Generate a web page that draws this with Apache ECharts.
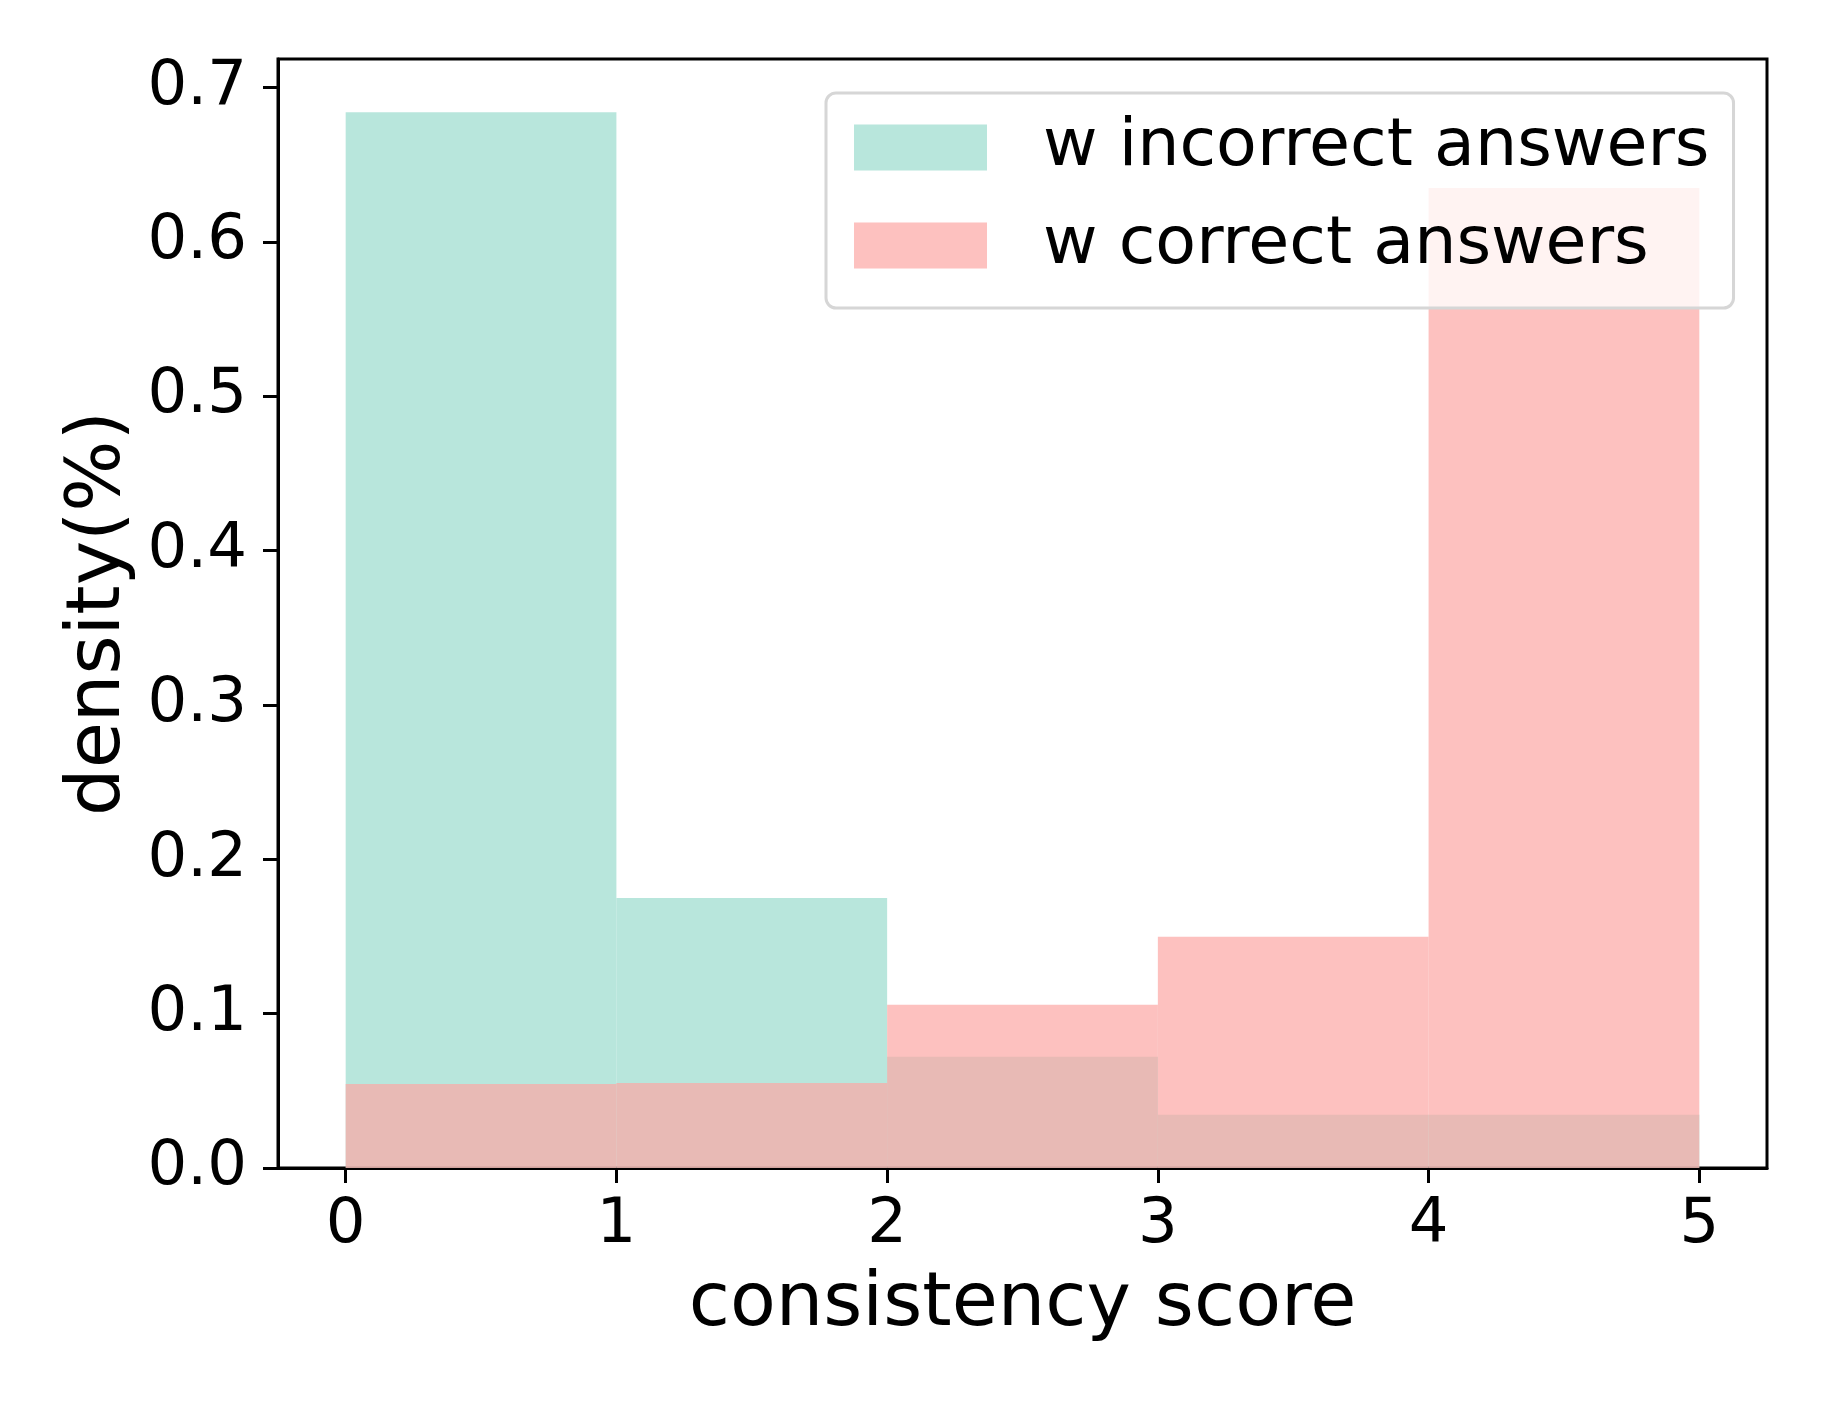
<!DOCTYPE html>
<html>
<head>
<meta charset="utf-8">
<script src="https://cdn.jsdelivr.net/npm/echarts@6/dist/echarts.min.js"></script>
<style>
html,body{margin:0;padding:0;background:#fff;}
#chart{width:1826px;height:1407px;}
</style>
</head>
<body>
<div id="chart"></div>
<script>
// ---- data ----
const binEdges = [0, 1, 2, 3, 4, 5];
const incorrectDensity = [0.684, 0.175, 0.072, 0.0345, 0.0345];
const correctDensity = [0.0545, 0.0551, 0.1057, 0.1498, 0.635];
const xTicks = [0, 1, 2, 3, 4, 5];
const yTicks = [0, 0.1, 0.2, 0.3, 0.4, 0.5, 0.6, 0.7];
const seriesNames = ['w incorrect answers', 'w correct answers'];

const FONT = 'DejaVu Sans';
const tealColor = 'rgb(154,219,205)';
const pinkColor = 'rgb(252,166,164)';
const ALPHA = 0.7;

function binData(vals) {
  return vals.map((v, i) => [binEdges[i], binEdges[i + 1], v]);
}

function renderBin(params, api) {
  const p0 = api.coord([api.value(0), api.value(2)]);
  const p1 = api.coord([api.value(1), 0]);
  return {
    type: 'rect',
    shape: { x: p0[0], y: p0[1], width: p1[0] - p0[0], height: p1[1] - p0[1] },
    style: api.style()
  };
}

const chart = echarts.init(document.getElementById('chart'), null, { renderer: 'canvas' });
chart.setOption({
  animation: false,
  backgroundColor: '#ffffff',
  textStyle: { fontFamily: FONT },
  grid: {
    left: 278, top: 59, width: 1489, height: 1109,
    show: true, borderColor: '#000', borderWidth: 3, backgroundColor: 'transparent'
  },
  xAxis: {
    type: 'value', min: -0.25, max: 5.25,
    name: 'consistency score', nameLocation: 'middle', nameGap: 100,
    nameTextStyle: { fontSize: 75, color: '#000', fontFamily: FONT },
    axisLine: { show: true, onZero: false, lineStyle: { color: '#000', width: 3 } },
    splitLine: { show: false },
    axisTick: { show: true, inside: false, length: 15, lineStyle: { color: '#000', width: 3 }, customValues: xTicks },
    axisLabel: { fontSize: 62.5, color: '#000', fontFamily: FONT, margin: 26, customValues: xTicks,
      formatter: v => String(Math.round(v)) }
  },
  yAxis: {
    type: 'value', min: 0, max: 0.7185,
    name: 'density(%)', nameLocation: 'middle', nameGap: 131, nameRotate: 90,
    nameTextStyle: { fontSize: 75, color: '#000', fontFamily: FONT },
    axisLine: { show: true, onZero: false, lineStyle: { color: '#000', width: 3 } },
    splitLine: { show: false },
    axisTick: { show: true, inside: false, length: 15, lineStyle: { color: '#000', width: 3 }, customValues: yTicks },
    axisLabel: { fontSize: 62.5, color: '#000', fontFamily: FONT, margin: 31, customValues: yTicks,
      formatter: v => v.toFixed(1) }
  },
  legend: {
    orient: 'vertical',
    left: 826, top: 93,
    padding: [21, 24, 29, 28],
    itemGap: 31,
    itemWidth: 133, itemHeight: 46,
    backgroundColor: 'rgba(255,255,255,0.8)',
    borderColor: '#d6d6d6', borderWidth: 3, borderRadius: 10,
    selectedMode: false,
    textStyle: { fontSize: 66.67, color: '#000', fontFamily: FONT, padding: [0, 0, 0, 51] },
    data: [
      { name: seriesNames[0], icon: 'rect', itemStyle: { color: tealColor, opacity: ALPHA } },
      { name: seriesNames[1], icon: 'rect', itemStyle: { color: pinkColor, opacity: ALPHA } }
    ]
  },
  series: [
    {
      type: 'custom', name: seriesNames[0], renderItem: renderBin,
      itemStyle: { color: tealColor, opacity: ALPHA },
      encode: { x: [0, 1], y: 2 },
      data: binData(incorrectDensity), z: 2
    },
    {
      type: 'custom', name: seriesNames[1], renderItem: renderBin,
      itemStyle: { color: pinkColor, opacity: ALPHA },
      encode: { x: [0, 1], y: 2 },
      data: binData(correctDensity), z: 3
    }
  ]
});
</script>
</body>
</html>
